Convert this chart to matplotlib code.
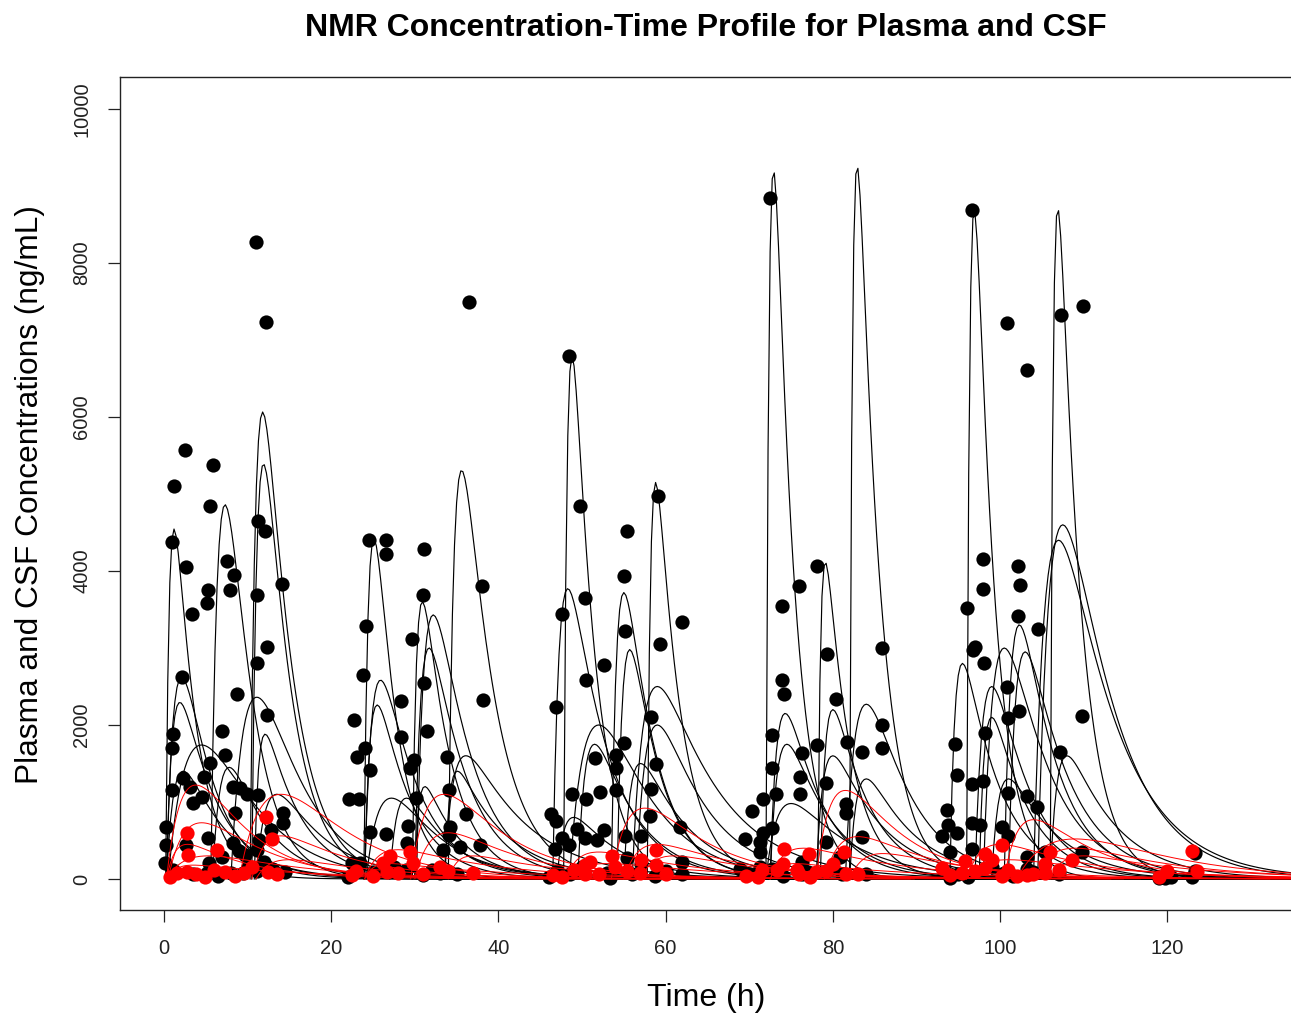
import numpy as np
import matplotlib.pyplot as plt

plt.rcParams['font.family'] = ['Liberation Sans', 'DejaVu Sans']

# ---- plasma model curves: dose time, time to peak after dose, peak conc, half-life
pl_t0 = [0.2, 0.3, 0.3, 0.3, 0.5, 5.6, 5.8, 10.3, 10.5, 8.0, 10.8, 11.0,
         23.9, 24.0, 24.0, 24.2, 29.7, 30.2, 30.0, 30.0, 34.0, 33.5, 27.0, 33.6,
         47.8, 46.5, 53.5, 54.2, 57.8, 48.5, 49.5, 56.0, 56.5, 47.0, 55.0,
         72.0, 82.0, 78.2, 72.5, 72.5, 78.5, 81.5, 82.0, 72.0, 78.0,
         96.0, 106.0, 94.0, 98.0, 100.5, 101.0, 104.0, 104.5, 97.0, 97.5, 106.0, 99.0]
pl_tmax = [1.0, 1.8, 1.6, 2.0, 4.0, 1.7, 2.0, 1.5, 1.4, 3.1, 1.3, 2.5,
           1.2, 1.9, 1.5, 3.0, 1.2, 2.0, 1.7, 1.2, 1.6, 2.6, 2.0, 1.5,
           1.0, 1.8, 1.5, 1.5, 1.0, 3.5, 2.0, 3.0, 2.5, 2.0, 2.0,
           0.9, 0.9, 0.9, 1.8, 2.0, 1.5, 2.5, 2.0, 3.0, 2.0,
           0.9, 0.9, 1.5, 2.5, 1.8, 2.0, 3.0, 3.0, 2.0, 1.5, 2.0, 2.0]
pl_cmax = [4545, 2620, 2290, 1400, 1740, 4860, 1450, 6065, 5380, 2360, 1880, 1100,
           4420, 2580, 2260, 1050, 3600, 3430, 3000, 1200, 5300, 1600, 1050, 1400,
           6800, 3770, 3720, 2980, 5150, 2000, 1750, 2500, 2000, 800, 1500,
           9170, 9230, 4100, 2150, 1750, 2200, 2270, 1300, 980, 1600,
           8650, 8680, 2800, 3000, 3300, 2950, 4400, 4600, 2500, 2100, 1600, 1300]
pl_thalf = [1.8, 2.5, 3.0, 3.5, 4.0, 2.0, 3.0, 2.3, 2.2, 3.5, 3.0, 4.0,
            1.8, 3.0, 2.8, 4.0, 2.3, 3.0, 3.0, 3.0, 2.6, 5.0, 3.5, 4.0,
            1.8, 3.2, 2.5, 2.5, 2.0, 4.0, 3.5, 5.0, 4.0, 4.0, 4.0,
            1.6, 1.8, 2.0, 3.0, 3.5, 3.0, 3.5, 4.0, 5.0, 4.0,
            1.6, 1.8, 3.0, 3.5, 3.0, 3.5, 4.5, 4.0, 3.0, 3.0, 4.0, 4.0]

# ---- CSF model curves
csf_t0 = [0.3, 0.5, 0.3, 0.3, 0.5, 9.0, 10.5, 11.0, 24.0, 24.0, 29.5, 30.0, 34.0,
          48.0, 48.0, 53.5, 55.0, 57.0, 72.5, 72.5, 78.0, 79.0, 82.0,
          96.0, 96.0, 100.5, 102.0, 104.0, 106.0]
csf_tmax = [3.5, 4.0, 2.5, 5.0, 3.0, 5.0, 3.5, 4.0, 4.0, 3.0, 4.0, 4.0, 3.0,
            4.0, 5.0, 4.0, 4.0, 4.0, 4.0, 3.0, 3.5, 4.0, 4.0,
            4.0, 5.0, 3.5, 7.0, 5.0, 4.0]
csf_cmax = [1220, 730, 450, 300, 180, 1100, 560, 250, 380, 200, 1100, 600, 300,
            350, 200, 920, 450, 300, 400, 200, 1150, 550, 330,
            450, 250, 770, 520, 400, 300]
csf_thalf = [4, 5, 5, 8, 10, 5, 6, 8, 8, 10, 5, 6, 8,
             8, 10, 5, 7, 8, 8, 10, 4.5, 6, 8,
             7, 10, 5, 7, 8, 9]

# ---- observed plasma concentrations
pl_time = [1.0, 1.2, 2.5, 5.9, 5.5, 11.0, 12.2, 11.2, 12.1, 2.6, 7.5, 8.4, 7.9, 5.3, 5.1, 3.3,
           11.1, 14.1, 2.2, 12.3, 8.7, 1.1, 0.9, 11.1, 12.3, 6.9, 7.3, 5.5, 4.8, 2.3, 3.1, 0.9,
           4.5, 3.5, 8.2, 9.1, 9.9, 11.2, 8.5, 14.2, 14.2, 0.3, 0.2, 0.1, 1.1, 2.6, 5.3, 5.4,
           6.9, 8.3, 9.0, 9.7, 11.1, 11.4, 9.5, 8.0, 5.2, 11.1, 12.0, 12.8,
           3.5, 6.5, 10.0, 13.0, 14.5,
           24.5, 26.6, 26.6, 31.1, 31.0, 24.2, 23.8, 29.7, 31.1, 28.3, 22.7, 28.3, 31.4, 23.1,
           24.0, 24.6, 22.1, 23.3, 29.9, 29.4, 30.1, 33.9, 34.1, 36.1, 24.6, 26.6, 29.2, 29.1,
           34.2, 34.1, 33.4, 22.5, 23.5, 26.6, 29.0, 31.0, 33.0, 36.5, 38.0, 38.2, 37.8, 35.4,
           22.0, 25.0, 27.5, 32.0, 35.0,
           48.5, 49.7, 55.4, 55.0, 59.1, 62.0, 50.4, 47.6, 55.1, 59.3, 52.6, 50.5, 46.9, 55.0,
           51.6, 54.1, 54.1, 58.2, 58.9, 58.3, 48.8, 50.5, 52.1, 54.1, 46.3, 46.9, 49.4, 50.4,
           47.6, 52.6, 51.8, 55.1, 57.1, 58.1, 61.7, 61.9, 61.9, 46.8, 48.4, 55.4, 57.1, 46.0,
           48.6, 53.4, 58.7, 47.0, 50.0, 53.0, 56.0, 60.0,
           72.5, 76.0, 78.1, 73.9, 79.3, 85.9, 73.9, 74.1, 80.4, 72.7, 78.1, 76.3, 81.7, 83.5,
           85.9, 85.9, 72.7, 76.1, 79.2, 71.7, 73.2, 76.1, 70.3, 69.5, 71.7, 72.7, 71.3, 71.3,
           81.6, 81.6, 79.2, 83.5, 76.3, 76.3, 80.9, 79.2, 72.7, 68.9, 71.3, 81.1,
           70.0, 74.0, 77.0, 80.0, 84.0,
           96.6, 100.8, 103.2, 107.3, 109.9, 98.0, 102.2, 98.0, 102.4, 96.0, 102.2, 104.5,
           96.8, 97.0, 98.1, 100.8, 100.9, 102.3, 109.8, 98.2, 94.6, 107.2, 94.9, 96.6, 98.0,
           100.9, 103.2, 104.4, 93.6, 93.8, 93.0, 94.9, 96.6, 97.6, 100.2, 100.9, 94.0, 96.6,
           103.2, 105.4, 109.8, 103.2, 96.2, 94.0, 100.5,
           95.0, 99.0, 101.5, 104.0, 107.0,
           119.7, 119.0, 120.5, 123.3, 123.3, 123.0]
pl_conc = [4380, 5100, 5570, 5380, 4840, 8270, 7230, 4650, 4520, 4050, 4130, 3950, 3750, 3750, 3590, 3440,
           3690, 3830, 2620, 3010, 2400, 1880, 1700, 2800, 2130, 1920, 1610, 1500, 1330, 1310, 1200, 1160,
           1070, 990, 1200, 1180, 1110, 1090, 860, 860, 730, 680, 440, 210, 117, 440, 530, 210,
           290, 470, 360, 310, 370, 500, 78, 78, 78, 104, 220, 640,
           60, 40, 150, 120, 90,
           4400, 4400, 4220, 4280, 3690, 3280, 2650, 3120, 2540, 2310, 2060, 1850, 1920, 1590,
           1700, 1410, 1040, 1040, 1550, 1440, 1050, 1590, 1160, 840, 610, 580, 690, 470,
           680, 570, 380, 210, 210, 117, 117, 52, 78, 7500, 3810, 2330, 440, 415,
           30, 90, 150, 120, 60,
           6790, 4850, 4520, 3940, 4975, 3340, 3650, 3440, 3215, 3050, 2775, 2585, 2235, 1770,
           1570, 1615, 1435, 2110, 1495, 1175, 1105, 1040, 1130, 1160, 845, 750, 655, 535,
           535, 630, 510, 555, 555, 815, 675, 225, 60, 390, 440, 270, 200, 20,
           60, 10, 40, 100, 150, 80, 60, 100,
           8840, 3800, 4070, 3550, 2925, 3005, 2590, 2400, 2340, 1865, 1740, 1630, 1775, 1650,
           2005, 1695, 1445, 1320, 1240, 1040, 1100, 1100, 880, 525, 600, 665, 480, 345,
           975, 860, 480, 540, 225, 70, 290, 110, 130, 130, 150, 60,
           60, 40, 90, 140, 70,
           8690, 7225, 6615, 7325, 7445, 4150, 4070, 3760, 3820, 3520, 3420, 3245,
           2980, 3010, 2800, 2495, 2090, 2180, 2120, 1900, 1750, 1650, 1350, 1230, 1275,
           1115, 1075, 940, 900, 700, 560, 600, 730, 700, 670, 555, 350, 390,
           290, 345, 345, 130, 20, 10, 80,
           60, 150, 40, 90, 60,
           13, 10, 20, 340, 110, 30]

# ---- observed CSF concentrations
csf_time = [2.8, 2.9, 6.3, 12.2, 12.9, 2.7, 4.9, 7.3, 12.4, 0.7, 9.6,
            1.5, 3.8, 6.0, 8.5, 10.5, 13.5,
            22.5, 26.2, 26.7, 29.4, 29.8, 28.0, 37.0, 34.0,
            23.0, 25.0, 27.0, 31.0, 33.0,
            50.4, 50.4, 53.6, 55.4, 58.9, 58.9, 47.6, 52.0, 56.9,
            46.5, 49.0, 51.0, 54.0, 57.0, 60.0,
            74.1, 77.1, 81.3, 81.6, 73.3, 75.7, 79.2, 69.6, 71.0, 77.3,
            71.5, 74.0, 76.0, 78.0, 80.0, 83.0,
            93.0, 95.8, 98.2, 98.2, 100.2, 100.2, 105.4, 105.4, 95.5, 103.2, 102.0, 108.6,
            94.0, 97.0, 99.0, 101.0, 104.0, 106.0, 107.0,
            119.0, 120.0, 123.0, 123.5]
csf_conc = [600, 315, 380, 810, 520, 95, 30, 95, 95, 30, 80,
            80, 60, 120, 40, 150, 60,
            50, 210, 95, 350, 210, 80, 80, 100,
            100, 40, 300, 60, 150,
            180, 60, 300, 100, 370, 180, 30, 60, 80,
            50, 120, 220, 160, 250, 60,
            385, 320, 350, 60, 120, 120, 100, 40, 30, 30,
            120, 200, 60, 90, 200, 60,
            140, 235, 320, 140, 435, 45, 200, 80, 80, 50, 40, 250,
            50, 100, 250, 120, 60, 350, 120,
            25, 110, 360, 110]

x_ticks = [0, 20, 40, 60, 80, 100, 120]
y_ticks = [0, 2000, 4000, 6000, 8000, 10000]


def profile(t0, tmax, cmax, thalf, tend=135.0):
    ke = np.log(2) / thalf
    lo, hi = ke * 1.0001, 500.0
    for _ in range(100):
        ka = 0.5 * (lo + hi)
        if np.log(ka / ke) / (ka - ke) > tmax:
            lo = ka
        else:
            hi = ka
    tt = np.arange(0, min(tend, t0 + 60) - t0, 0.25)
    c = np.exp(-ke * tt) - np.exp(-ka * tt)
    c = c / c.max() * cmax
    return t0 + tt, c


fig = plt.figure(figsize=(12.91, 10.16), dpi=100)
ax = fig.add_axes([120 / 1291, 1 - 910 / 1016, 1171 / 1291, 833 / 1016])

for i in range(len(pl_t0)):
    t, c = profile(pl_t0[i], pl_tmax[i], pl_cmax[i], pl_thalf[i])
    ax.plot(t, c, color='black', lw=0.85, zorder=2)
ax.scatter(pl_time, pl_conc, s=105, color='black', zorder=3, linewidths=0)

for i in range(len(csf_t0)):
    t, c = profile(csf_t0[i], csf_tmax[i], csf_cmax[i], csf_thalf[i])
    ax.plot(t, c, color='red', lw=0.7, zorder=4)
ax.scatter(csf_time, csf_conc, s=105, color='red', zorder=5, linewidths=0)

ax.set_xlim(-5.26, 134.8)
ax.set_ylim(-403, 10416)
ax.set_xticks(x_ticks)
ax.set_yticks(y_ticks)
ax.set_yticklabels([str(v) for v in y_ticks], rotation=90, va='center')
ax.tick_params(axis='both', direction='out', length=8.6, width=0.9,
               labelsize=14.5, pad=12, colors='#222222')
ax.spines['right'].set_visible(False)
for s in ['left', 'bottom', 'top']:
    ax.spines[s].set_linewidth(1.0)
    ax.spines[s].set_color('#222222')

fig.text(706 / 1291, 1 - 28 / 1016, 'NMR Concentration-Time Profile for Plasma and CSF',
         ha='center', va='center', fontsize=23, fontweight='bold')
fig.text(30 / 1291, 1 - 495 / 1016, 'Plasma and CSF Concentrations (ng/mL)',
         ha='center', va='center', rotation=90, fontsize=22.8)
fig.text(706 / 1291, 1 - 998 / 1016, 'Time (h)', ha='center', va='center', fontsize=23)

fig.savefig('out.png', dpi=100)
